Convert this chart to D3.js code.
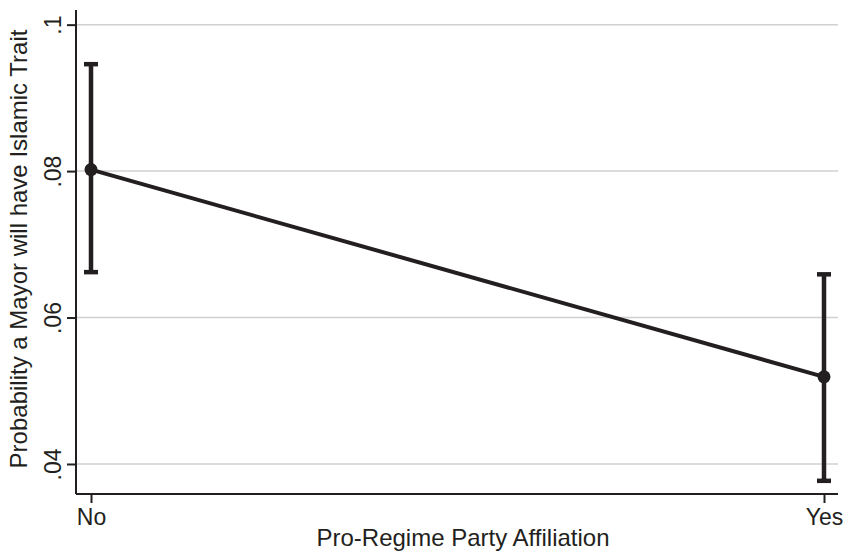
<!DOCTYPE html>
<html>
<head>
<meta charset="utf-8">
<script src="https://cdn.jsdelivr.net/npm/d3@7"></script>
<style>
  body { margin: 0; background: #fff; }
  svg { display: block; font-family: "Liberation Sans", Arial, sans-serif; }
</style>
</head>
<body>
<div id="chart"></div>
<script>
// 数据
const categories = ['No', 'Yes'];
const margins = [0.0802, 0.0519];
const ciLower = [0.0662, 0.0377];
const ciUpper = [0.0946, 0.0659];
const yTicks = [0.04, 0.06, 0.08, 0.1];
const yTickLabels = ['.04', '.06', '.08', '.1'];

const width = 848;
const height = 556;
const ink = '#231f20';

const svg = d3.select('#chart')
    .append('svg')
    .attr('width', width)
    .attr('height', height);

// 比例尺
const plot = { left: 76, right: 838, top: 10, bottom: 494 };
const x = d3.scalePoint().domain(categories).range([91, 824]);
const y = d3.scaleLinear().domain([0.0359, 0.1020]).range([plot.bottom, plot.top]);

// 网格线
svg.append('g')
    .selectAll('line')
    .data(yTicks)
    .enter()
    .append('line')
    .attr('x1', plot.left)
    .attr('x2', plot.right)
    .attr('y1', d => y(d))
    .attr('y2', d => y(d))
    .style('stroke', '#d0d0d0')
    .style('stroke-width', 1.5);

// Y轴
const yAxis = svg.append('g')
    .attr('transform', `translate(${plot.left},0)`)
    .call(d3.axisLeft(y).tickValues(yTicks).tickFormat((d, i) => yTickLabels[i]).tickSize(9).tickSizeOuter(0));
yAxis.select('.domain').attr('d', `M0,${plot.top}V${plot.bottom}`).style('stroke', ink).style('stroke-width', 2);
yAxis.selectAll('.tick line').style('stroke', ink).style('stroke-width', 2);
yAxis.selectAll('.tick text')
    .attr('x', null).attr('dy', null)
    .attr('transform', 'translate(-15,0) rotate(-90)')
    .attr('text-anchor', 'middle')
    .style('font-size', '23px')
    .style('fill', ink);

// X轴
const xAxis = svg.append('g')
    .attr('transform', `translate(0,${plot.bottom})`)
    .call(d3.axisBottom(x).tickSize(9).tickSizeOuter(0));
xAxis.select('.domain').attr('d', `M${plot.left},0H${plot.right}`).style('stroke', ink).style('stroke-width', 2);
xAxis.selectAll('.tick line').style('stroke', ink).style('stroke-width', 2);
xAxis.selectAll('.tick text')
    .attr('y', 31).attr('dy', null)
    .style('font-size', '23px')
    .style('fill', ink);

// 坐标轴标题
svg.append('text')
    .attr('x', 463)
    .attr('y', 546)
    .attr('text-anchor', 'middle')
    .style('font-size', '24px')
    .style('fill', ink)
    .text('Pro-Regime Party Affiliation');

svg.append('text')
    .attr('transform', 'translate(27,249) rotate(-90)')
    .attr('text-anchor', 'middle')
    .style('font-size', '24px')
    .style('fill', ink)
    .text('Probability a Mayor will have Islamic Trait');

// 置信区间
const g = svg.append('g');
categories.forEach((c, i) => {
    g.append('line')
        .attr('x1', x(c)).attr('x2', x(c))
        .attr('y1', y(ciLower[i])).attr('y2', y(ciUpper[i]))
        .style('stroke', ink).style('stroke-width', 4.5);
    [ciLower[i], ciUpper[i]].forEach(v => {
        g.append('line')
            .attr('x1', x(c) - 7).attr('x2', x(c) + 7)
            .attr('y1', y(v)).attr('y2', y(v))
            .style('stroke', ink).style('stroke-width', 4.5);
    });
});

// 折线与点
const line = d3.line().x((d, i) => x(categories[i])).y(d => y(d));
g.append('path')
    .datum(margins)
    .attr('d', line)
    .style('fill', 'none')
    .style('stroke', ink)
    .style('stroke-width', 4);

g.selectAll('circle')
    .data(margins)
    .enter()
    .append('circle')
    .attr('cx', (d, i) => x(categories[i]))
    .attr('cy', d => y(d))
    .attr('r', 6.5)
    .style('fill', ink);
</script>
</body>
</html>
